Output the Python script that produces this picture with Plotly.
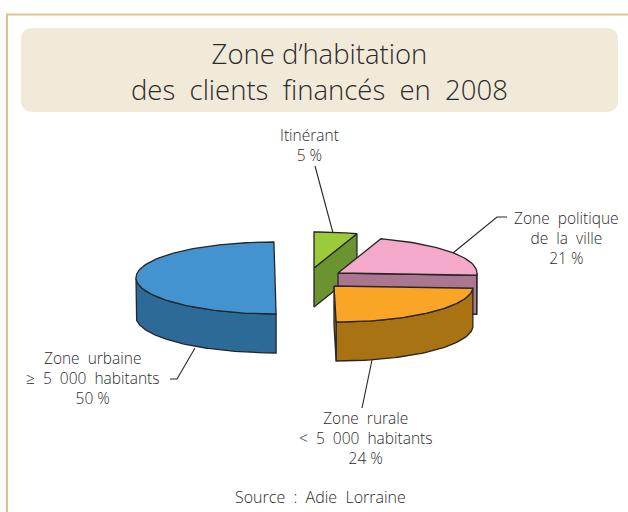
import numpy as np
import plotly.graph_objects as go

# --- data
labels = ["Itinérant", "Zone  politique<br>de  la  ville", "Zone  rurale<br>&lt;  5  000  habitants", "Zone  urbaine<br>≥  5  000  habitants"]
values = [5, 21, 24, 50]
top_colors = ["#9BCB3B", "#F4A9CB", "#FBA526", "#4393D0"]
wall_colors = ["#6B9430", "#AB7690", "#A97212", "#2C6A97"]

# --- pie geometry (plot units = pixels of the page)
CX, CY = 300, 278
A, B, DEPTH = 139, 36, 39
pull_x = [14, 38, 34, -25]
pull_y = [-10, -5, 8, 0]
skew = [0, 0, 0.06, 0.03]
EDGE = "#262626"
FONT = "Open Sans"
TEXT = "#2b2b2b"

fig = go.Figure()


def point(cx, cy, theta, k):
    """theta: radians clockwise from the top of the ellipse."""
    dy = -B * np.cos(theta)
    return cx + A * np.sin(theta) + k * dy, cy + dy


def poly(xs, ys, color):
    fig.add_trace(go.Scatter(x=list(xs), y=list(ys), mode="lines", fill="toself", fillcolor=color,
                             line=dict(color=EDGE, width=1.3), hoverinfo="skip", showlegend=False))


total = sum(values)
bounds = np.concatenate([[0], np.cumsum(values)]) / total * 2 * np.pi
for i in [3, 0, 1, 2]:
    t0, t1 = bounds[i], bounds[i + 1]
    cx, cy = CX + pull_x[i], CY + pull_y[i]
    n = max(int((t1 - t0) * 40), 6)
    th = np.linspace(t0, t1, n)
    ax, ay = point(cx, cy, th, skew[i])
    # outer wall: only the part of the rim that faces the viewer
    f0, f1 = max(t0, np.pi / 2), min(t1, 3 * np.pi / 2)
    if f1 > f0:
        fth = np.linspace(f0, f1, n)
        fx, fy = point(cx, cy, fth, skew[i])
        poly(np.r_[fx, fx[::-1], fx[0]], np.r_[fy, fy[::-1] + DEPTH, fy[0]], wall_colors[i])
    # flat cut wall
    if i in (0, 1, 2):
        ex, ey = ax[-1], ay[-1]
        poly([cx, ex, ex, cx, cx], [cy, ey, ey + DEPTH, cy + DEPTH, cy], wall_colors[i])
    # top face
    poly(np.r_[cx, ax, cx], np.r_[cy, ay, cy], top_colors[i])

# --- leader lines
leaders = [
    ([315, 333], [166, 233]),
    ([453, 497, 507], [253, 217, 217]),
    ([372, 362], [360, 408]),
    ([195, 177, 170], [348, 379, 379]),
]
for lx, ly in leaders:
    fig.add_trace(go.Scatter(x=lx, y=ly, mode="lines", line=dict(color=EDGE, width=1.1),
                             hoverinfo="skip", showlegend=False))

# --- frame and title box
r = 12
x0, x1, y0, y1 = 21, 618, 28, 112
box = (f"M{x0+r},{y0} L{x1-r},{y0} Q{x1},{y0} {x1},{y0+r} L{x1},{y1-r} Q{x1},{y1} {x1-r},{y1} "
       f"L{x0+r},{y1} Q{x0},{y1} {x0},{y1-r} L{x0},{y0+r} Q{x0},{y0} {x0+r},{y0} Z")
shapes = [
    dict(type="path", path=box, fillcolor="#F2EAD8", line=dict(width=0), layer="below"),
    dict(type="path", path="M7,512 L7,14.5 L628,14.5", line=dict(color="#DFC38E", width=2), layer="below"),
]


def note(x, y, text, size=15.5):
    fig.add_annotation(x=x, y=y, text=text, showarrow=False, xanchor="center", yanchor="middle",
                       align="center", font=dict(family=FONT, size=size, color=TEXT, weight=300))


note(319, 71, "Zone d’habitation<br>des  clients  financés  en  2008", 27.5)
note(309, 145, f"{labels[0]}<br>{values[0]} %")
note(566, 238, f"{labels[1]}<br>{values[1]} %")
note(365, 438, f"{labels[2]}<br>{values[2]} %")
note(92, 378, f"{labels[3]}<br>{values[3]} %")
note(320, 497, "Source  :  Adie  Lorraine", 16)

fig.update_layout(
    width=628, height=512, margin=dict(l=0, r=0, t=0, b=0),
    paper_bgcolor="white", plot_bgcolor="white", showlegend=False, shapes=shapes,
    xaxis=dict(range=[0, 628], visible=False, fixedrange=True),
    yaxis=dict(range=[512, 0], visible=False, fixedrange=True),
)
fig.write_html("out.html", config=dict(displayModeBar=False),
               post_script="document.body.style.margin='0';document.documentElement.style.overflow='hidden';")
